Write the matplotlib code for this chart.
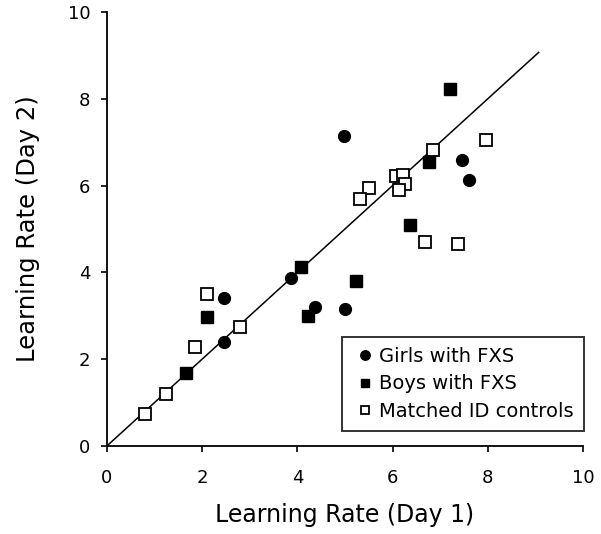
import matplotlib
matplotlib.use("Agg")
import matplotlib.pyplot as plt

plt.rcParams['font.family'] = ['DejaVu Sans']

girls_x = [4.99, 7.45, 7.61, 3.86, 2.45, 2.45, 4.38, 5.01]
girls_y = [7.15, 6.60, 6.13, 3.86, 3.41, 2.40, 3.21, 3.16]

boys_x = [7.21, 6.77, 4.08, 5.24, 4.22, 6.36, 2.11, 1.66]
boys_y = [8.22, 6.55, 4.13, 3.80, 3.00, 5.10, 2.98, 1.68]

ctrl_x = [7.96, 6.85, 6.08, 6.22, 6.26, 6.14, 5.50, 5.31, 6.68, 7.38, 2.11, 1.84, 2.80, 1.23, 0.80]
ctrl_y = [7.05, 6.82, 6.23, 6.24, 6.03, 5.90, 5.94, 5.69, 4.71, 4.66, 3.50, 2.27, 2.73, 1.20, 0.74]

identity = [0, 9.07]
ticks = [0, 2, 4, 6, 8, 10]

fig = plt.figure(figsize=(6.01, 5.34), dpi=100)
ax = fig.add_axes([0.178, 0.165, 0.792, 0.8125])

ax.plot(identity, identity, color='black', lw=1.1, zorder=1)
ax.plot(girls_x, girls_y, 'o', color='black', ms=8.5, ls='none', label='Girls with FXS', zorder=3)
ax.plot(boys_x, boys_y, 's', color='black', ms=8, ls='none', label='Boys with FXS', zorder=3)
ax.plot(ctrl_x, ctrl_y, 's', mfc='white', mec='black', mew=1.3, ms=8, ls='none',
        label='Matched ID controls', zorder=3)

ax.set_xlim(0, 10)
ax.set_ylim(0, 10)
ax.set_xticks(ticks)
ax.set_yticks(ticks)
ax.tick_params(labelsize=13, width=1.2, length=4.5, direction='out', color='black')
ax.tick_params(axis='x', pad=12)
ax.tick_params(axis='y', pad=7.5)
for s in ['top', 'right']:
    ax.spines[s].set_visible(False)
for s in ['left', 'bottom']:
    ax.spines[s].set_linewidth(1.3)

ax.set_xlabel('Learning Rate (Day 1)', fontsize=17, labelpad=12)
ax.set_ylabel('Learning Rate (Day 2)', fontsize=17.5, labelpad=20)

leg = fig.legend(loc='lower right', bbox_to_anchor=(0.971, 0.193), fontsize=14,
                 frameon=True, fancybox=False, edgecolor='black', markerscale=0.8,
                 handlelength=1.3, handletextpad=0.1, borderpad=0.5, labelspacing=0.45,
                 borderaxespad=0)
leg.get_frame().set_linewidth(1.4)

fig.savefig('out.png', dpi=100)
